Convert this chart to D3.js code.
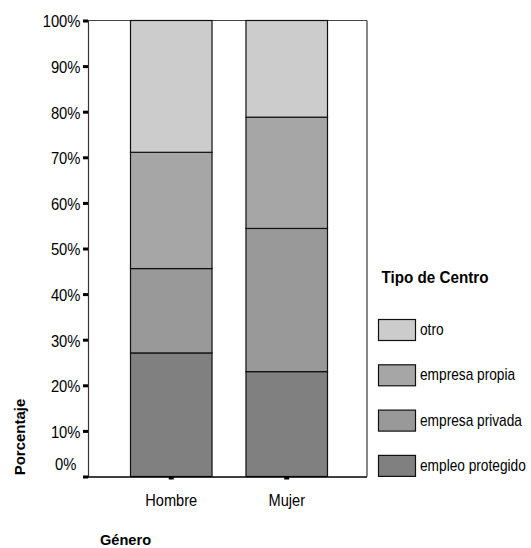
<!DOCTYPE html>
<html><head><meta charset="utf-8">
<script src="https://cdn.jsdelivr.net/npm/d3@7"></script>
<style>
body{margin:0;background:#fff;}
text{font-family:"Liberation Sans",Arial,sans-serif;fill:#000;}
</style></head>
<body><svg id="c" width="531" height="548"></svg>
<script>
const categories = ["Hombre", "Mujer"];
const seriesNames = ["empleo protegido", "empresa privada", "empresa propia", "otro"];
const empleoProtegido = [27.1, 23.0];
const empresaPrivada = [18.5, 31.4];
const empresaPropia = [25.5, 24.4];
const otro = [28.9, 21.2];
const yTicks = [0, 10, 20, 30, 40, 50, 60, 70, 80, 90, 100];
const colors = ["#808080", "#999999", "#a6a6a6", "#cccccc"];
const legendOrder = ["otro", "empresa propia", "empresa privada", "empleo protegido"];

const svg = d3.select("#c");
const pLeft = 88, pRight = 367, pTop = 20.5, pBottom = 476.5;
const FF = "Liberation Sans, Arial, sans-serif";

const rows = categories.map((c, i) => ({
  cat: c,
  "empleo protegido": empleoProtegido[i],
  "empresa privada": empresaPrivada[i],
  "empresa propia": empresaPropia[i],
  "otro": otro[i]
}));
const stacked = d3.stack().keys(seriesNames)(rows);

const x = d3.scaleBand().domain(categories).range([pLeft + 1.5, pRight + 1.5]).paddingInner(0.294).paddingOuter(0.355);
const y = d3.scaleLinear().domain([0, 100]).range([pBottom, pTop]);
const color = d3.scaleOrdinal().domain(seriesNames).range(colors);

// frame
svg.append("line").attr("x1", pLeft).attr("x2", pRight).attr("y1", pTop).attr("y2", pTop).attr("stroke", "#444").attr("stroke-width", 1);
svg.append("line").attr("x1", pRight).attr("x2", pRight).attr("y1", pTop).attr("y2", pBottom).attr("stroke", "#111").attr("stroke-width", 1);

// bars
svg.append("g").selectAll("g").data(stacked).join("g")
  .attr("fill", d => color(d.key))
  .selectAll("rect").data(d => d).join("rect")
  .attr("x", d => x(d.data.cat))
  .attr("width", x.bandwidth())
  .attr("y", d => y(d[1]))
  .attr("height", d => y(d[0]) - y(d[1]))
  .attr("stroke", "#111").attr("stroke-width", 1.2);

// y axis
const yAxis = svg.append("g").attr("transform", `translate(${pLeft},0)`)
  .call(d3.axisLeft(y).tickValues(yTicks).tickFormat(d => d + "%").tickSize(5).tickPadding(2));
yAxis.select(".domain").attr("stroke", "#333").attr("stroke-width", 1.2);
yAxis.selectAll(".tick line").attr("stroke", "#000").attr("stroke-width", 3);
yAxis.selectAll(".tick text")
  .attr("font-size", "14.8px").attr("font-family", FF).attr("fill", "#000")
  .attr("x", null).attr("y", null).attr("dy", null).attr("text-anchor", "end")
  .attr("transform", d => d === 0 ? "translate(-11.5,-7.5) scale(1,1.12)" : "translate(-7.5,6.3) scale(1,1.12)");

// x axis
const xAxis = svg.append("g").attr("transform", `translate(0,${pBottom})`)
  .call(d3.axisBottom(x).tickSize(3));
xAxis.select(".domain").attr("d", `M${pLeft - 4},0.5H${pRight}`).attr("stroke", "#000").attr("stroke-width", 1.3);
xAxis.selectAll(".tick line").attr("stroke", "#000").attr("stroke-width", 5);
xAxis.selectAll(".tick text")
  .attr("font-size", "14.6px").attr("font-family", FF).attr("fill", "#000")
  .attr("x", null).attr("y", null).attr("dy", null).attr("text-anchor", "middle")
  .attr("transform", "translate(0,29.5) scale(1,1.12)");

// axis titles
svg.append("text").attr("transform", "translate(25,437) rotate(-90)").attr("text-anchor", "middle")
  .attr("font-weight", "bold").attr("font-size", "15px").text("Porcentaje");
svg.append("text").attr("transform", "translate(100,545) scale(1,1.05)").attr("font-weight", "bold").attr("font-size", "14.6px").text("Género");

// legend
const lg = svg.append("g");
lg.append("text").attr("transform", "translate(381.5,283.3) scale(1,1.07)").attr("font-weight", "bold").attr("font-size", "15.2px").text("Tipo de Centro");
const li = lg.selectAll("g.li").data(legendOrder).join("g").attr("class", "li")
  .attr("transform", (d, i) => `translate(378.5,${319.5 + i * 45.3})`);
li.append("rect").attr("width", 37).attr("height", 21).attr("fill", d => color(d)).attr("stroke", "#111").attr("stroke-width", 1.2);
li.append("text").attr("transform", "translate(41.5,15.5) scale(1,1.15)").attr("font-size", "13.7px").text(d => d);
</script></body></html>
